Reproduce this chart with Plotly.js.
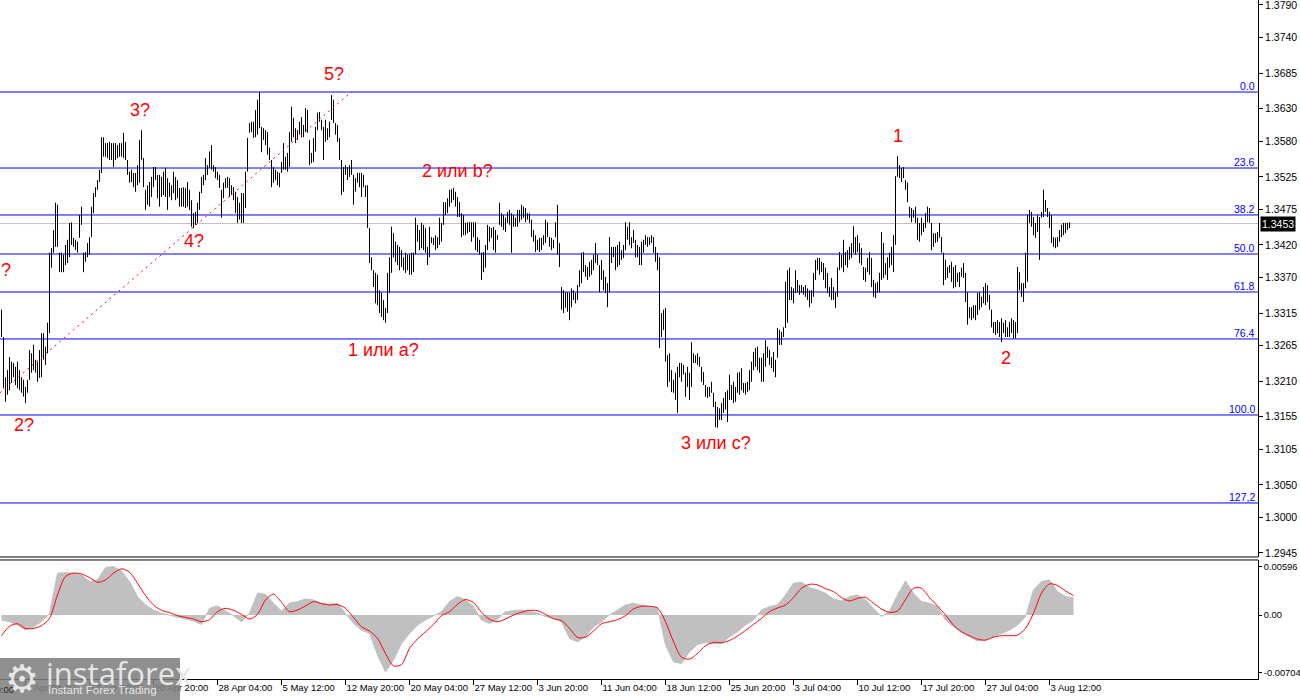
<!DOCTYPE html>
<html>
<head>
<meta charset="utf-8">
<script src="https://cdn.plot.ly/plotly-3.0.1.min.js"></script>
<style>
  html, body { margin: 0; padding: 0; background: #ffffff; }
  #chart { width: 1300px; height: 700px; }
</style>
</head>
<body>
<div id="chart"></div>
<script>
// ---------- DATA ----------
// H4 bars: high and low of each bar, left to right
const highs = [
1.3320,1.3278,1.3216,1.3227,1.3247,1.3240,1.3238,1.3232,1.3240,1.3227,
1.3216,1.3212,1.3201,1.3212,1.3258,1.3253,1.3266,1.3243,1.3240,1.3258,
1.3284,1.3284,1.3263,1.3300,1.3408,1.3415,1.3443,1.3485,1.3482,1.3408,
1.3408,1.3405,1.3420,1.3428,1.3454,1.3455,1.3431,1.3428,1.3425,1.3466,
1.3479,1.3408,1.3409,1.3423,1.3432,1.3479,1.3500,1.3509,1.3520,1.3536,
1.3586,1.3586,1.3577,1.3577,1.3579,1.3577,1.3577,1.3577,1.3574,1.3577,
1.3577,1.3593,1.3579,1.3551,1.3533,1.3536,1.3531,1.3531,1.3543,1.3582,
1.3597,1.3554,1.3505,1.3512,1.3517,1.3525,1.3540,1.3540,1.3528,1.3528,
1.3525,1.3533,1.3539,1.3523,1.3516,1.3512,1.3533,1.3525,1.3520,1.3508,
1.3508,1.3509,1.3508,1.3517,1.3505,1.3489,1.3469,1.3471,1.3485,1.3502,
1.3525,1.3528,1.3554,1.3543,1.3564,1.3574,1.3543,1.3540,1.3533,1.3528,
1.3505,1.3516,1.3523,1.3525,1.3523,1.3512,1.3509,1.3502,1.3494,1.3485,
1.3500,1.3500,1.3533,1.3585,1.3608,1.3610,1.3610,1.3628,1.3644,1.3656,
1.3602,1.3600,1.3597,1.3594,1.3570,1.3551,1.3540,1.3536,1.3533,1.3531,
1.3548,1.3577,1.3556,1.3562,1.3594,1.3633,1.3616,1.3600,1.3597,1.3610,
1.3617,1.3605,1.3631,1.3628,1.3582,1.3562,1.3585,1.3602,1.3624,1.3625,
1.3613,1.3602,1.3613,1.3600,1.3610,1.3651,1.3644,1.3608,1.3605,1.3585,
1.3551,1.3540,1.3543,1.3540,1.3543,1.3551,1.3528,1.3523,1.3531,1.3531,
1.3531,1.3528,1.3512,1.3512,1.3446,1.3401,1.3381,1.3377,1.3374,1.3350,
1.3346,1.3335,1.3323,1.3377,1.3401,1.3448,
1.3438,1.3425,1.3420,1.3417,1.3412,1.3401,1.3408,1.3405,1.3405,1.3408,
1.3408,1.3462,1.3451,1.3443,1.3454,1.3451,1.3446,1.3417,1.3448,1.3432,
1.3431,1.3435,1.3432,1.3462,1.3454,1.3486,1.3486,1.3492,1.3505,1.3506,
1.3508,1.3502,1.3494,1.3486,1.3469,1.3466,1.3454,1.3455,1.3455,1.3455,
1.3455,1.3455,1.3432,1.3428,1.3408,1.3409,1.3420,1.3451,1.3448,1.3446,
1.3448,1.3443,1.3435,1.3485,1.3469,1.3466,1.3462,1.3471,1.3474,1.3469,
1.3466,1.3462,1.3474,1.3474,1.3482,1.3479,1.3477,1.3469,1.3469,1.3459,
1.3443,1.3435,1.3428,1.3431,1.3431,1.3435,1.3459,1.3455,1.3432,1.3431,
1.3428,1.3455,1.3482,1.3423,1.3355,1.3350,1.3347,1.3347,1.3346,1.3353,
1.3350,1.3346,1.3358,1.3381,1.3408,1.3409,1.3389,1.3386,1.3394,1.3397,
1.3405,1.3423,1.3405,1.3389,1.3397,1.3381,1.3371,1.3361,1.3432,1.3417,
1.3417,1.3417,1.3420,1.3425,
1.3412,1.3420,1.3455,1.3448,1.3455,1.3432,1.3443,1.3428,1.3420,1.3417,
1.3425,1.3428,1.3435,1.3432,1.3432,1.3435,1.3432,1.3417,1.3408,1.3401,
1.3315,1.3320,1.3323,1.3250,1.3253,1.3227,1.3212,1.3223,1.3232,1.3238,
1.3238,1.3235,1.3223,1.3232,1.3223,1.3270,1.3253,1.3250,1.3253,1.3247,
1.3232,1.3224,1.3204,1.3201,1.3201,1.3209,1.3192,1.3178,1.3170,1.3168,
1.3176,1.3184,1.3193,1.3196,1.3220,1.3204,1.3209,1.3201,1.3223,1.3224,
1.3230,1.3207,1.3207,1.3209,1.3227,1.3240,1.3255,1.3261,1.3263,1.3246,
1.3246,1.3253,1.3273,1.3263,1.3258,1.3247,1.3255,1.3243,1.3292,1.3289,
1.3286,1.3293,1.3363,1.3381,1.3385,1.3355,1.3353,1.3381,1.3366,1.3358,
1.3358,1.3355,1.3358,1.3353,1.3350,1.3350,1.3377,1.3397,1.3400,1.3400,
1.3394,1.3392,1.3385,1.3377,1.3355,1.3369,1.3355,1.3347,1.3385,1.3409,
1.3405,1.3428,1.3409,1.3412,1.3417,1.3423,1.3449,1.3432,1.3435,1.3423,
1.3415,1.3386,1.3385,1.3400,1.3409,1.3400,1.3366,1.3361,1.3363,1.3377,
1.3440,1.3423,1.3392,1.3401,1.3408,1.3417,1.3435,1.3526,1.3557,1.3543,
1.3539,1.3540,1.3520,1.3516,1.3479,1.3477,1.3474,1.3479,1.3462,1.3454,
1.3462,1.3454,1.3469,1.3479,1.3477,1.3454,1.3438,1.3438,1.3440,1.3454,
1.3432,1.3408,1.3397,1.3386,1.3389,1.3394,1.3386,1.3389,1.3377,1.3378,
1.3385,1.3392,1.3377,1.3347,1.3324,1.3324,1.3327,1.3327,1.3346,1.3347,
1.3340,1.3355,1.3361,1.3358,1.3343,1.3320,1.3301,1.3301,1.3304,1.3301,
1.3307,1.3300,1.3304,1.3293,1.3301,1.3307,1.3304,1.3301,1.3386,1.3378,
1.3361,1.3361,1.3408,1.3466,1.3474,1.3471,1.3463,1.3454,1.3466,1.3463,
1.3471,1.3505,1.3489,1.3477,1.3471,1.3466,1.3432,1.3431,1.3432,1.3443,
1.3451,1.3454,1.3454,1.3454,1.3455
];
const lows = [
1.3278,1.3199,1.3178,1.3189,1.3196,1.3207,1.3216,1.3204,1.3199,1.3196,
1.3192,1.3186,1.3176,1.3192,1.3212,1.3223,1.3227,1.3223,1.3209,1.3215,
1.3216,1.3243,1.3235,1.3253,1.3284,1.3385,1.3408,1.3417,1.3417,1.3378,
1.3378,1.3378,1.3389,1.3392,1.3401,1.3420,1.3417,1.3412,1.3408,1.3431,
1.3451,1.3378,1.3394,1.3401,1.3405,1.3432,1.3469,1.3494,1.3505,1.3517,
1.3531,1.3556,1.3556,1.3554,1.3551,1.3551,1.3540,1.3551,1.3554,1.3556,
1.3556,1.3554,1.3551,1.3528,1.3516,1.3517,1.3509,1.3502,1.3512,1.3516,
1.3551,1.3509,1.3474,1.3482,1.3479,1.3494,1.3509,1.3520,1.3492,1.3479,
1.3494,1.3497,1.3494,1.3474,1.3494,1.3489,1.3500,1.3489,1.3492,1.3479,
1.3479,1.3479,1.3477,1.3479,1.3474,1.3448,1.3446,1.3451,1.3454,1.3474,
1.3500,1.3512,1.3520,1.3528,1.3539,1.3536,1.3533,1.3523,1.3520,1.3508,
1.3462,1.3492,1.3508,1.3508,1.3494,1.3497,1.3489,1.3469,1.3454,1.3459,
1.3454,1.3454,1.3477,1.3533,1.3593,1.3594,1.3585,1.3586,1.3590,1.3600,
1.3563,1.3582,1.3574,1.3559,1.3551,1.3509,1.3516,1.3520,1.3512,1.3509,
1.3531,1.3536,1.3536,1.3533,1.3540,1.3579,1.3586,1.3577,1.3582,1.3590,
1.3586,1.3586,1.3594,1.3593,1.3543,1.3546,1.3548,1.3564,1.3597,1.3610,
1.3597,1.3551,1.3579,1.3582,1.3586,1.3613,1.3608,1.3590,1.3579,1.3551,
1.3497,1.3502,1.3528,1.3520,1.3525,1.3528,1.3482,1.3502,1.3516,1.3509,
1.3494,1.3509,1.3494,1.3446,1.3392,1.3381,1.3355,1.3330,1.3327,1.3315,
1.3309,1.3304,1.3300,1.3315,1.3346,1.3377,
1.3401,1.3394,1.3389,1.3381,1.3386,1.3381,1.3377,1.3381,1.3374,1.3374,
1.3378,1.3405,1.3425,1.3412,1.3415,1.3412,1.3408,1.3389,1.3401,1.3423,
1.3420,1.3412,1.3415,1.3420,1.3425,1.3451,1.3466,1.3469,1.3479,1.3485,
1.3489,1.3479,1.3463,1.3463,1.3432,1.3435,1.3435,1.3438,1.3440,1.3425,
1.3432,1.3412,1.3409,1.3405,1.3366,1.3378,1.3385,1.3412,1.3425,1.3431,
1.3412,1.3408,1.3428,1.3451,1.3448,1.3443,1.3440,1.3454,1.3451,1.3408,
1.3448,1.3448,1.3448,1.3455,1.3459,1.3462,1.3455,1.3459,1.3454,1.3432,
1.3425,1.3409,1.3412,1.3409,1.3412,1.3420,1.3423,1.3432,1.3417,1.3412,
1.3415,1.3432,1.3405,1.3386,1.3320,1.3315,1.3323,1.3317,1.3304,1.3324,
1.3335,1.3330,1.3335,1.3355,1.3361,1.3378,1.3371,1.3366,1.3371,1.3374,
1.3381,1.3392,1.3389,1.3347,1.3366,1.3350,1.3346,1.3324,1.3347,1.3392,
1.3401,1.3381,1.3386,1.3389,
1.3397,1.3400,1.3412,1.3428,1.3420,1.3415,1.3423,1.3401,1.3401,1.3389,
1.3389,1.3408,1.3420,1.3417,1.3420,1.3423,1.3408,1.3394,1.3381,1.3261,
1.3278,1.3289,1.3240,1.3201,1.3209,1.3193,1.3192,1.3181,1.3161,1.3216,
1.3209,1.3220,1.3186,1.3201,1.3181,1.3201,1.3238,1.3238,1.3235,1.3232,
1.3209,1.3204,1.3186,1.3184,1.3186,1.3192,1.3170,1.3139,1.3138,1.3150,
1.3150,1.3161,1.3166,1.3147,1.3181,1.3181,1.3176,1.3178,1.3192,1.3189,
1.3196,1.3192,1.3189,1.3193,1.3196,1.3209,1.3227,1.3232,1.3227,1.3223,
1.3209,1.3209,1.3232,1.3246,1.3235,1.3230,1.3224,1.3216,1.3246,1.3266,
1.3266,1.3278,1.3292,1.3300,1.3335,1.3335,1.3330,1.3346,1.3347,1.3343,
1.3346,1.3343,1.3340,1.3335,1.3324,1.3330,1.3340,1.3366,1.3381,1.3374,
1.3378,1.3366,1.3353,1.3346,1.3340,1.3335,1.3335,1.3323,1.3340,1.3381,
1.3385,1.3378,1.3389,1.3385,1.3397,1.3400,1.3408,1.3405,1.3409,1.3392,
1.3389,1.3366,1.3363,1.3378,1.3374,1.3355,1.3340,1.3338,1.3346,1.3347,
1.3366,1.3369,1.3374,1.3366,1.3385,1.3389,1.3378,1.3420,1.3525,1.3523,
1.3517,1.3523,1.3505,1.3486,1.3462,1.3455,1.3462,1.3454,1.3428,1.3425,
1.3435,1.3440,1.3446,1.3455,1.3454,1.3412,1.3417,1.3423,1.3425,1.3431,
1.3408,1.3358,1.3366,1.3369,1.3377,1.3363,1.3353,1.3355,1.3363,1.3355,
1.3371,1.3369,1.3332,1.3297,1.3307,1.3304,1.3307,1.3304,1.3312,1.3320,
1.3324,1.3330,1.3327,1.3332,1.3320,1.3293,1.3284,1.3281,1.3284,1.3278,
1.3270,1.3284,1.3278,1.3278,1.3278,1.3284,1.3276,1.3276,1.3284,1.3350,
1.3340,1.3332,1.3353,1.3363,1.3454,1.3448,1.3435,1.3431,1.3440,1.3397,
1.3462,1.3463,1.3471,1.3463,1.3446,1.3423,1.3417,1.3415,1.3417,1.3425,
1.3432,1.3435,1.3438,1.3443,1.3446
];

// MACD pane, read every 4th bar
const macdHist = [
-0.00062,-0.00082,-0.00123,-0.00185,-0.00144,-0.00082,0.00021,0.00513,0.00521,0.00513,
0.00492,0.0041,0.0043,0.00582,0.00595,0.00541,0.0041,0.00226,0.00123,0.00062,
0.00021,0,-0.00029,-0.00049,-0.00074,-0.00115,0.00082,0.00111,0.00049,-0.00008,
-0.00082,0.00021,0.00267,0.00254,0.00144,0.00049,0.00144,0.00164,0.00197,0.00185,
0.00144,0.00131,0.00144,0.00021,-0.00103,-0.00185,-0.00226,-0.00492,-0.00697,-0.00554,
-0.00349,-0.00226,-0.00123,-0.00062,-0.00008,0.00041,0.00164,0.00226,0.00185,0.00103,
-0.00062,-0.00103,-0.00053,0.00041,0.00053,0.00062,0.00049,0.00021,
-0.00021,-0.00041,-0.00082,-0.00287,-0.00328,-0.00267,-0.00144,-0.00082,0,0.00062,
0.00123,0.00144,0.00123,0.00111,0.00082,-0.00369,-0.00574,-0.00595,-0.00451,-0.00361,
-0.00336,-0.00349,-0.00349,-0.00267,-0.00205,-0.00123,-0.00062,0.00062,0.00103,0.00123,
0.00246,0.0039,0.00402,0.00336,0.00308,0.00267,0.00197,0.00172,0.00226,0.00246,
0.00185,0.00082,-0.00021,0.00049,0.00246,0.00418,0.00267,0.00164,0.00144,0.00103,
-0.00062,-0.00144,-0.00213,-0.00267,-0.0032,-0.00308,-0.00267,-0.00226,-0.00185,-0.00123,
-0.00021,0.00308,0.0041,0.00431,0.00287,0.00226,0.00213
];
const macdSignal = [
-0.00254,-0.00139,-0.00107,-0.00164,-0.00164,-0.00131,-0.00041,0.00246,0.00472,0.00513,
0.00504,0.00459,0.00402,0.0043,0.00513,0.00566,0.00525,0.0039,0.00238,0.00123,
0.00057,0.00029,-0.00008,-0.00029,-0.00049,-0.00082,-0.00057,0.00041,0.00082,0.00057,
0.00008,-0.00049,0.00008,0.00185,0.00254,0.00156,0.00041,0.00062,0.00111,0.00164,
0.00139,0.00123,0.00127,0.00082,-0.00029,-0.00144,-0.00197,-0.00287,-0.00472,-0.00623,
-0.00607,-0.0041,-0.00295,-0.00205,-0.00115,-0.00008,0.00041,0.00131,0.00189,0.00152,
0.00033,-0.00053,-0.00082,-0.00049,0,0.00033,0.00057,0.00053,
0.00008,-0.00045,-0.0007,-0.00164,-0.00275,-0.00271,-0.00197,-0.00107,-0.00082,-0.00057,
-0.00008,0.00074,0.00107,0.00107,0.00086,-0.00082,-0.00328,-0.00517,-0.00541,-0.00472,
-0.00377,-0.00336,-0.0034,-0.00312,-0.00258,-0.00189,-0.00115,-0.00041,0.00041,0.00086,
0.00123,0.00213,0.00328,0.00377,0.00369,0.00324,0.00287,0.00213,0.00172,0.00205,
0.00217,0.00144,0.00074,0.00033,0.00049,0.00189,0.00328,0.00328,0.00213,0.00111,
0,-0.00123,-0.00205,-0.00254,-0.00295,-0.00308,-0.00271,-0.00254,-0.00254,-0.00246,
-0.00164,0.00021,0.00267,0.00381,0.00361,0.00295,0.00238
];
const macdStep = 4;

// time axis labels (bar index of each label)
const timeTickIdx = [12,44,76,108,140,172,204,236,268,300,332,364,396,428,460,492,524];
const timeTickText = ["6 Apr 04:00","13 Apr 12:00","20 Apr 20:00","28 Apr 04:00","5 May 12:00",
  "12 May 20:00","20 May 04:00","27 May 12:00","3 Jun 20:00","11 Jun 04:00","18 Jun 12:00",
  "25 Jun 20:00","3 Jul 04:00","10 Jul 12:00","17 Jul 20:00","27 Jul 04:00","3 Aug 12:00"];
const cutTimeLabel = "29 Mar 20:00";

// price axis labels
const priceTicks = [1.3790,1.3740,1.3685,1.3630,1.3580,1.3525,1.3475,1.3420,1.3370,1.3315,
  1.3265,1.3210,1.3155,1.3105,1.3050,1.3000,1.2945];
const macdTicks = [0.00596, 0, -0.00704];
const macdTickText = ["0.00596", "0.00", "-0.00704"];

// Fibonacci levels
const fibLevels = [1.36558,1.35386,1.34662,1.34060,1.33474,1.32750,1.31578,1.30221];
const fibNames  = ["0.0","23.6","38.2","50.0","61.8","76.4","100.0","127,2"];

const currentPrice = 1.3453;

// wave labels: [text, bar index, price]
const waveLabels = [
  ["5?",166,1.3684],["3?",69,1.3628],["4?",96,1.3426],["?",2,1.3382],["2?",11,1.3142],
  ["2 или b?",228,1.3534],["1 или a?",191,1.3258],["3 или c?",357,1.3115],
  ["1",448,1.3588],["2",502,1.3246]
];
// dotted trend line from wave 2? to wave 5?
const trendStart = [-0.75, 1.3192];
const trendEnd = [175, 1.3656];

// ---------- BUILD ----------
const bx = [], by = [];
for (let i = 0; i < highs.length; i++) {
  bx.push(i, i, null);
  by.push(lows[i], highs[i], null);
}
const mx = macdHist.map((_, k) => k * macdStep);

const fontAxis = {family: "Liberation Sans, Arial, sans-serif", size: 10.5, color: "#000"};
const fontTime = {family: "Liberation Sans, Arial, sans-serif", size: 9.5, color: "#000"};
const fontMacd = {family: "Liberation Sans, Arial, sans-serif", size: 9.3, color: "#000"};

const traces = [
  {type: "scatter", mode: "lines", x: bx, y: by, xaxis: "x", yaxis: "y",
   line: {color: "#000", width: 1, simplify: false}, hoverinfo: "skip", showlegend: false},
  {type: "scatter", mode: "lines", x: mx, y: macdHist, xaxis: "x", yaxis: "y2",
   fill: "tozeroy", fillcolor: "#c0c0c0", line: {color: "#c0c0c0", width: 1},
   hoverinfo: "skip", showlegend: false},
  {type: "scatter", mode: "lines", x: mx, y: macdSignal, xaxis: "x", yaxis: "y2",
   line: {color: "#ff0000", width: 1, shape: "spline", smoothing: 0.8},
   hoverinfo: "skip", showlegend: false}
];

const PRICE_BOTTOM = 0.1797, MACD_TOP = 0.1753;

const shapes = [];
fibLevels.forEach(v => shapes.push({type: "line", xref: "paper", yref: "y", x0: 0, x1: 1, y0: v, y1: v,
  line: {color: "#0000ff", width: 1}, layer: "below"}));
shapes.push({type: "line", xref: "paper", yref: "y", x0: 0, x1: 1, y0: currentPrice, y1: currentPrice,
  line: {color: "#c0c0c0", width: 1}, layer: "below"});
shapes.push({type: "line", xref: "x", yref: "y", x0: trendStart[0], y0: trendStart[1], x1: trendEnd[0], y1: trendEnd[1],
  line: {color: "#ff0000", width: 1, dash: "2px,4px"}});
shapes.push({type: "line", xref: "paper", yref: "paper", x0: 0, x1: 1, y0: PRICE_BOTTOM, y1: PRICE_BOTTOM,
  line: {color: "#000", width: 1}});
shapes.push({type: "line", xref: "paper", yref: "paper", x0: 0, x1: 1, y0: MACD_TOP, y1: MACD_TOP,
  line: {color: "#000", width: 1}});
// logo box
shapes.push({type: "rect", xref: "paper", yref: "paper", x0: 0, x1: 180/1258, y0: -0.035, y1: 0.0310,
  fillcolor: "rgba(128,128,128,0.88)", line: {width: 0}, layer: "above"});

const annotations = [];
fibLevels.forEach((v, i) => annotations.push({xref: "paper", yref: "y", x: 1, y: v, xanchor: "right", yanchor: "bottom",
  text: fibNames[i], showarrow: false, font: {family: "Liberation Sans, Arial", size: 10.5, color: "#0000ff"},
  xshift: -1, yshift: -2}));
waveLabels.forEach(w => annotations.push({xref: "x", yref: "y", x: w[1], y: w[2], text: w[0], showarrow: false,
  xanchor: "center", yanchor: "middle", font: {family: "Liberation Sans, Arial, sans-serif", size: 18, color: "#ff0000"}}));
annotations.push({xref: "paper", yref: "y", x: 1, y: currentPrice, xanchor: "left", yanchor: "middle", xshift: 2,
  text: currentPrice.toFixed(4), showarrow: false, bgcolor: "#000", borderpad: 1,
  font: {family: "Liberation Sans, Arial", size: 10.5, color: "#fff"}});
// first date label, mostly outside the left edge and under the logo
annotations.push({xref: "paper", yref: "paper", x: 16/1258, y: 0, yshift: -10, xanchor: "right", yanchor: "middle",
  text: cutTimeLabel, showarrow: false, font: {family: "Liberation Sans, Arial", size: 9.5, color: "#2a2a2a"}});
// logo text
annotations.push({xref: "paper", yref: "paper", x: 22/1258, y: 0, yshift: 0, xanchor: "center", yanchor: "middle",
  text: "⚙", showarrow: false, font: {family: "DejaVu Sans", size: 38, color: "#e6e6e6"}});
annotations.push({xref: "paper", yref: "paper", x: 44/1258, y: 0, yshift: 6, xanchor: "left", yanchor: "middle",
  text: "instaforex", showarrow: false, font: {family: "Open Sans, Roboto, sans-serif", size: 31, color: "#e6e6e6"}});
annotations.push({xref: "paper", yref: "paper", x: 46/1258, y: 0, yshift: -11, xanchor: "left", yanchor: "middle",
  text: "Instant Forex Trading", showarrow: false, font: {family: "Liberation Sans, Arial", size: 11.5, color: "#e6e6e6"}});

const layout = {
  width: 1300, height: 700,
  margin: {l: 0, r: 42, t: 0, b: 21, pad: 0},
  paper_bgcolor: "#fff", plot_bgcolor: "#fff",
  showlegend: false,
  xaxis: {anchor: "y2", range: [-0.75, 628.25], showgrid: false, zeroline: false,
    showline: true, linecolor: "#000", linewidth: 1,
    ticks: "outside", ticklen: 5, tickcolor: "#000", tickwidth: 1,
    tickmode: "array", tickvals: timeTickIdx, ticktext: timeTickText, tickangle: 0,
    ticklabelposition: "outside right", ticklabeloverflow: "allow",
    tickfont: fontTime, fixedrange: true},
  yaxis: {domain: [PRICE_BOTTOM, 1], range: [1.29388, 1.37977], side: "right", anchor: "x",
    showgrid: false, zeroline: false, showline: true, linecolor: "#000", linewidth: 1,
    ticks: "outside", ticklen: 4, tickcolor: "#000", ticklabeloverflow: "allow",
    tickmode: "array", tickvals: priceTicks, ticktext: priceTicks.map(v => v.toFixed(4)),
    tickfont: fontAxis, fixedrange: true},
  yaxis2: {domain: [0, MACD_TOP], range: [-0.00785, 0.00675], side: "right", anchor: "x",
    showgrid: false, zeroline: false, showline: true, linecolor: "#000", linewidth: 1,
    ticks: "outside", ticklen: 3, tickcolor: "#000", ticklabeloverflow: "allow",
    tickmode: "array", tickvals: macdTicks, ticktext: macdTickText,
    tickfont: fontMacd, fixedrange: true},
  shapes: shapes,
  annotations: annotations
};

Plotly.newPlot("chart", traces, layout, {staticPlot: true, displayModeBar: false});
</script>
</body>
</html>
